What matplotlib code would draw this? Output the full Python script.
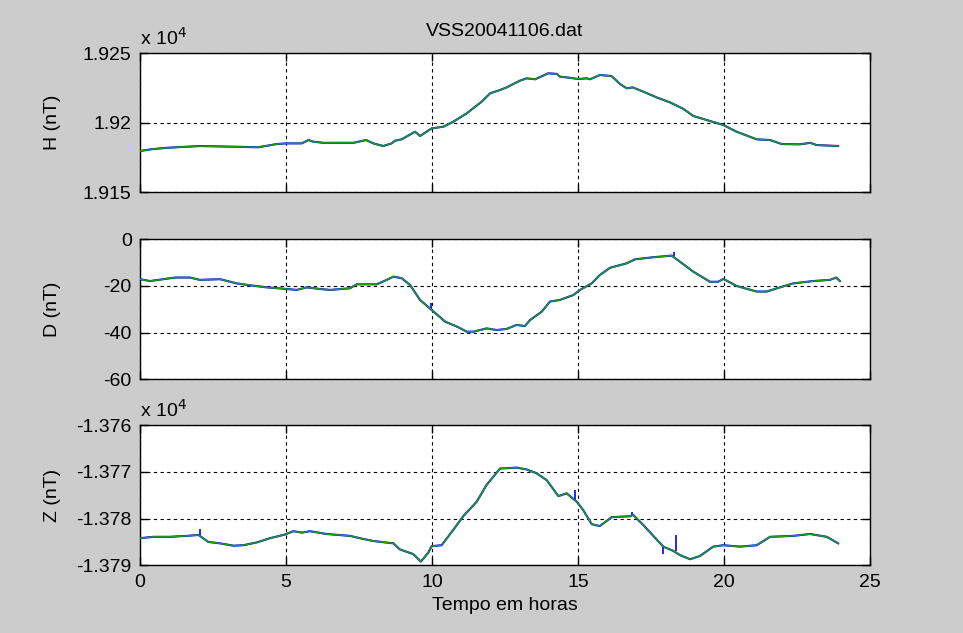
import matplotlib
matplotlib.use("Agg")
import matplotlib.pyplot as plt
from matplotlib.ticker import FixedLocator, FuncFormatter

# hourly-ish readings of the day's magnetogram (time in hours)
h_t = [0.0, 0.4, 0.91, 2.05, 3.2, 4.05, 4.68, 5.02, 5.54, 5.77, 5.94, 6.28, 7.31,
       7.74, 7.99, 8.33, 8.62, 8.73, 8.96, 9.42, 9.59, 9.99, 10.39, 10.73, 11.19,
       11.7, 11.99, 12.33, 12.56, 13.01, 13.24, 13.53, 13.98, 14.27, 14.38, 14.67,
       15.01, 15.3, 15.41, 15.75, 16.15, 16.44, 16.67, 16.87, 17.24, 17.69, 18.15,
       18.61, 18.95, 19.41, 19.98, 20.43, 21.12, 21.58, 21.98, 22.6, 22.95, 23.17,
       23.91]
h_val = [19179.7, 19181.0, 19182.0, 19183.3, 19182.8, 19182.4, 19184.7, 19185.2,
         19185.2, 19187.6, 19186.4, 19185.6, 19185.6, 19187.6, 19185.2, 19183.3,
         19185.2, 19187.1, 19188.1, 19193.6, 19190.5, 19196.0, 19197.2, 19200.8,
         19206.8, 19215.2, 19221.2, 19223.6, 19225.5, 19230.3, 19232.0, 19231.3,
         19235.6, 19235.2, 19233.2, 19232.5, 19231.5, 19232.0, 19231.3, 19234.4,
         19233.6, 19227.9, 19224.8, 19225.5, 19222.4, 19218.3, 19214.7, 19210.0,
         19204.9, 19202.0, 19198.4, 19193.6, 19188.1, 19187.6, 19184.7, 19184.5,
         19185.6, 19184.0, 19183.3]

d_t = [0.0, 0.34, 1.2, 1.71, 2.05, 2.74, 3.31, 3.88, 4.34, 5.02, 5.37, 5.71, 6.16,
       6.51, 7.19, 7.42, 8.11, 8.45, 8.68, 8.96, 9.25, 9.59, 9.99, 10.45, 10.85,
       11.19, 11.42, 11.87, 12.22, 12.56, 12.9, 13.18, 13.36, 13.76, 14.04, 14.38,
       14.84, 15.07, 15.47, 15.75, 16.1, 16.67, 16.95, 17.58, 18.21, 18.49, 18.95,
       19.52, 19.8, 19.98, 20.43, 21.12, 21.46, 21.92, 22.37, 23.06, 23.63, 23.84,
       23.97]
d_val = [-17.1, -17.9, -16.4, -16.4, -17.4, -17.1, -18.9, -19.9, -20.6, -21.3, -21.7,
         -20.6, -21.3, -21.7, -21.0, -19.3, -19.3, -17.4, -16.0, -16.7, -19.6, -26.0,
         -30.3, -35.3, -37.4, -39.6, -39.6, -38.2, -38.9, -38.4, -36.7, -37.2, -34.6,
         -31.0, -26.7, -26.0, -23.9, -21.7, -18.9, -15.3, -12.2, -10.3, -8.6, -7.7,
         -7.0, -9.6, -13.9, -18.2, -18.2, -17.0, -20.0, -22.4, -22.4, -20.6, -18.9,
         -17.9, -17.4, -16.4, -17.9]

z_t = [0.0, 0.46, 1.03, 1.6, 2.0, 2.34, 2.74, 3.2, 3.54, 4.0, 4.45, 4.97, 5.25,
       5.54, 5.82, 6.39, 7.19, 7.53, 7.99, 8.68, 8.9, 9.36, 9.62, 9.87, 9.99, 10.33,
       10.73, 11.07, 11.53, 11.87, 12.33, 12.9, 13.24, 13.58, 13.93, 14.33, 14.61,
       14.96, 15.18, 15.47, 15.75, 16.15, 16.78, 16.89, 17.24, 17.58, 17.92, 18.26,
       18.49, 18.84, 19.18, 19.63, 19.98, 20.55, 21.12, 21.58, 22.37, 22.95, 23.52,
       23.91]
z_val = [-13784.2, -13783.9, -13783.9, -13783.7, -13783.5, -13785.0, -13785.3,
         -13785.8, -13785.7, -13785.1, -13784.2, -13783.4, -13782.7, -13783.0,
         -13782.7, -13783.3, -13783.7, -13784.2, -13784.8, -13785.3, -13786.6,
         -13787.6, -13789.2, -13787.3, -13785.9, -13785.7, -13782.4, -13779.5,
         -13776.4, -13772.8, -13769.3, -13769.1, -13769.5, -13770.3, -13771.8,
         -13775.2, -13774.6, -13776.4, -13778.2, -13781.2, -13781.6, -13779.7,
         -13779.5, -13779.2, -13781.4, -13783.7, -13786.0, -13786.9, -13787.8,
         -13788.7, -13788.0, -13786.0, -13785.7, -13786.0, -13785.7, -13783.9,
         -13783.7, -13783.3, -13783.9, -13785.3]

# isolated spikes in the raw (unsmoothed) record: time, base, tip
d_spk_t = [18.3, 9.95]
d_spk_base = [-7.2, -30.0]
d_spk_tip = [-5.3, -27.5]
z_spk_t = [2.05, 14.9, 16.85, 17.9, 18.35]
z_spk_base = [-13783.5, -13776.2, -13779.3, -13785.8, -13787.0]
z_spk_tip = [-13782.3, -13773.9, -13778.6, -13787.6, -13783.6]

panels = [
    ("H (nT)", h_t, h_val, [], [], [], [19150, 19200, 19250], (19150, 19250), True),
    ("D (nT)", d_t, d_val, d_spk_t, d_spk_base, d_spk_tip, [-60, -40, -20, 0], (-60, 0), False),
    ("Z (nT)", z_t, z_val, z_spk_t, z_spk_base, z_spk_tip,
     [-13790, -13780, -13770, -13760], (-13790, -13760), True),
]
rects = [
    [0.1454, 0.6962, 0.758, 0.2196],
    [0.1454, 0.4008, 0.758, 0.2212],
    [0.1454, 0.1069, 0.758, 0.2216],
]

plt.rcParams["font.family"] = ["Liberation Sans", "DejaVu Sans"]
BG = "#cccccc"
FS = 14

fig = plt.figure(figsize=(9.63, 6.33), dpi=100, facecolor=BG)

for k, ((lab, t, v, st, sb, stip, yt, ylim, sci), r) in enumerate(zip(panels, rects)):
    ax = fig.add_axes(r)
    ax.set_facecolor("white")
    # raw record in blue, smoothed trace in green drawn over it
    ax.plot(t, v, color="#0000ff", lw=1.5, zorder=3)
    if st:
        ax.vlines(st, sb, stip, color="#0000ff", lw=1.2, zorder=3)
    ax.plot(t, v, color="#1f9a1f", lw=1.1, zorder=4)
    ax.set_xlim(0, 25)
    ax.set_ylim(*ylim)
    ax.xaxis.set_major_locator(FixedLocator([0, 5, 10, 15, 20, 25]))
    ax.yaxis.set_major_locator(FixedLocator(yt))
    if sci:
        ax.yaxis.set_major_formatter(FuncFormatter(lambda y, p: f"{y / 1e4:g}"))
        ax.text(0.0, 1.03, "x 10$^4$", transform=ax.transAxes, fontsize=FS,
                ha="left", va="bottom")
    else:
        ax.yaxis.set_major_formatter(FuncFormatter(lambda y, p: f"{y:g}"))
    ax.grid(True, color="black", ls=(0, (3, 3)), lw=0.8)
    ax.set_axisbelow(True)
    ax.tick_params(direction="in", top=True, right=True, length=6, width=1,
                   labelsize=FS, pad=6)
    for s in ax.spines.values():
        s.set_linewidth(1.0)
    if k < 2:
        ax.tick_params(labelbottom=False)
    ax.set_ylabel(lab, fontsize=FS)
    ax.yaxis.set_label_coords(-0.108, 0.5)

fig.text(505 / 963, 1 - 32 / 633, "VSS20041106.dat", fontsize=FS, ha="center", va="center")
fig.text(505 / 963, 1 - 606 / 633, "Tempo em horas", fontsize=FS, ha="center", va="center")

fig.savefig("out.png", dpi=100, facecolor=BG)
